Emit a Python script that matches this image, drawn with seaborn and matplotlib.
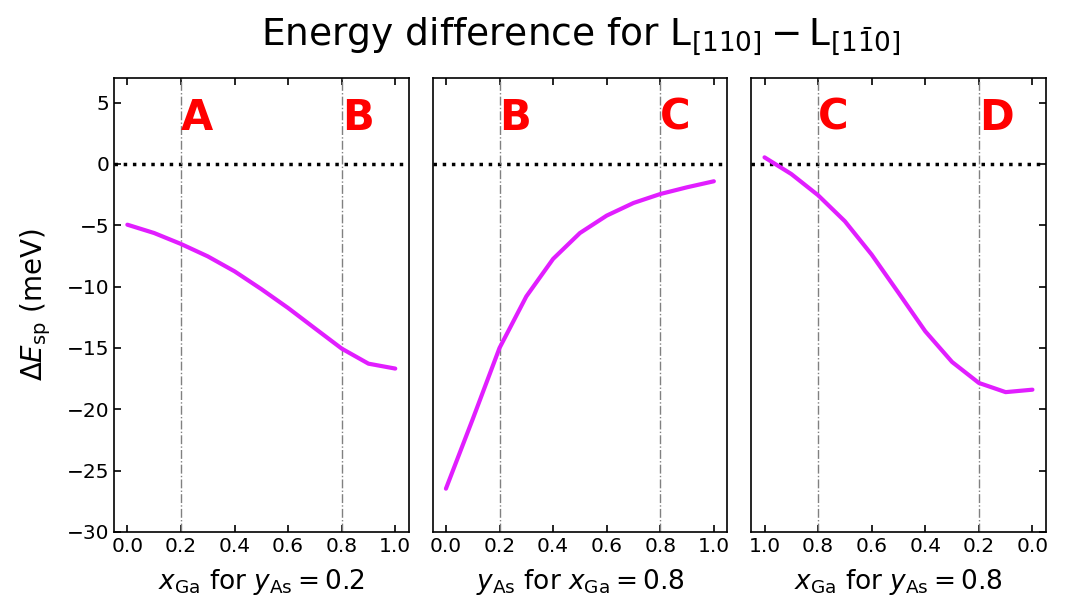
import numpy as np
import pandas as pd
import matplotlib
matplotlib.use("Agg")
import matplotlib.pyplot as plt
import seaborn as sns

# composicion en cada panel
comp = [0.0, 0.1, 0.2, 0.3, 0.4, 0.5, 0.6, 0.7, 0.8, 0.9, 1.0]

# Delta E_sp (meV)
dE_xga_y02 = [-4.95, -5.63, -6.52, -7.53, -8.75, -10.2, -11.74, -13.4, -15.05, -16.28, -16.68]
dE_yas_x08 = [-26.47, -20.8, -15.0, -10.8, -7.74, -5.63, -4.21, -3.18, -2.45, -1.90, -1.41]
dE_xga_y08 = [-18.4, -18.6, -17.85, -16.14, -13.64, -10.5, -7.39, -4.67, -2.55, -0.82, 0.54]

xlabels = [r"$x_\mathrm{Ga}$ for $y_\mathrm{As} = 0.2$",
           r"$y_\mathrm{As}$ for $x_\mathrm{Ga} = 0.8$",
           r"$x_\mathrm{Ga}$ for $y_\mathrm{As} = 0.8$"]
letters = [("A", "B"), ("B", "C"), ("C", "D")]

sns.set_style("ticks")
plt.rcParams['font.family'] = ['DejaVu Sans']
plt.rcParams['mathtext.fontset'] = 'dejavusans'
for k in ['text.color', 'axes.labelcolor', 'xtick.color', 'ytick.color', 'axes.edgecolor']:
    plt.rcParams[k] = 'black'

fig, axes = plt.subplots(1, 3, figsize=(10.65, 6.15), dpi=100, sharey=True)
fig.subplots_adjust(left=0.107, right=0.982, bottom=0.135, top=0.873, wspace=0.081)

series = [dE_xga_y02, dE_yas_x08, dE_xga_y08]
line_color = '#e11eff'

for i, ax in enumerate(axes):
    df = pd.DataFrame({'x': comp, 'y': series[i]})
    ax.axhline(0, color='black', linestyle=':', linewidth=2.5, zorder=1)
    for xv in (0.2, 0.8):
        ax.axvline(xv, color='gray', linestyle='-.', linewidth=1.0, zorder=1)
    sns.lineplot(data=df, x='x', y='y', ax=ax, color=line_color, linewidth=3, zorder=3)

    ax.set_ylim(-30, 7)
    if i == 2:
        ax.set_xlim(1.05, -0.05)
        pos = [(0.8, letters[i][0]), (0.2, letters[i][1])]
    else:
        ax.set_xlim(-0.05, 1.05)
        pos = [(0.2, letters[i][0]), (0.8, letters[i][1])]
    for xv, lab in pos:
        ax.text(xv, 2.8, lab, color='red', fontsize=30, fontweight='bold',
                ha='left', va='baseline')

    ax.set_xticks([0.0, 0.2, 0.4, 0.6, 0.8, 1.0])
    ax.set_xticklabels(['0.0', '0.2', '0.4', '0.6', '0.8', '1.0'])
    ax.set_yticks([-30, -25, -20, -15, -10, -5, 0, 5])
    ax.set_xlabel(xlabels[i], fontsize=19, labelpad=8)
    ax.tick_params(direction='in', top=True, labelsize=14.5, length=5, width=1.2)
    for sp in ax.spines.values():
        sp.set_linewidth(1.2)

    if i == 0:
        ax.set_ylabel(r"$\Delta E_\mathrm{sp}$ (meV)", fontsize=20, labelpad=10)
        ax.tick_params(axis='y', left=True, right=False)
    elif i == 1:
        ax.set_ylabel("")
        ax.tick_params(axis='y', left=False, right=False, labelleft=False)
    else:
        ax.set_ylabel("")
        ax.tick_params(axis='y', left=False, right=True, labelleft=False, labelright=False)

fig.suptitle(r"Energy difference for $\mathrm{L}_{[110]} - \mathrm{L}_{[1\bar{1}0]}$",
             fontsize=27, x=0.545, y=0.974)

fig.savefig('out.png', dpi=100)
